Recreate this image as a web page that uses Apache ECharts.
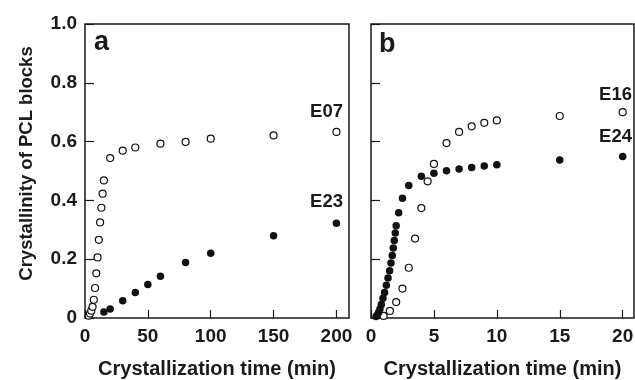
<!DOCTYPE html>
<html>
<head>
<meta charset="utf-8">
<script src="https://cdn.jsdelivr.net/npm/echarts@6/dist/echarts.min.js"></script>
<style>
  html, body { margin: 0; padding: 0; background: #fff; }
  #main { width: 635px; height: 380px; }
</style>
</head>
<body>
<div id="main"></div>
<script>
// panel a
var e07Time = [3, 4, 5, 6, 7, 8, 9, 10, 11, 12, 13, 14, 15, 20, 30, 40, 60, 80, 100, 150, 200];
var e07Cryst = [0.008, 0.015, 0.025, 0.038, 0.062, 0.102, 0.152, 0.206, 0.266, 0.325, 0.375, 0.423, 0.468, 0.544, 0.569, 0.58, 0.593, 0.599, 0.61, 0.621, 0.633];
var e23Time = [15, 20, 30, 40, 50, 60, 80, 100, 150, 200];
var e23Cryst = [0.02, 0.031, 0.059, 0.087, 0.114, 0.142, 0.189, 0.22, 0.28, 0.322];
// panel b
var e16Time = [1, 1.5, 2, 2.5, 3, 3.5, 4, 4.5, 5, 6, 7, 8, 9, 10, 15, 20];
var e16Cryst = [0.007, 0.024, 0.054, 0.1, 0.171, 0.27, 0.374, 0.465, 0.524, 0.595, 0.633, 0.652, 0.664, 0.672, 0.687, 0.70];
var e24Time = [0.4, 0.5, 0.6, 0.71, 0.82, 0.95, 1.08, 1.22, 1.35, 1.48, 1.59, 1.69, 1.77, 1.85, 1.93, 2.0, 2.2, 2.5, 3, 4, 5, 6, 7, 8, 9, 10, 15, 20];
var e24Cryst = [0.005, 0.01, 0.019, 0.031, 0.046, 0.067, 0.087, 0.111, 0.136, 0.161, 0.187, 0.213, 0.238, 0.264, 0.289, 0.314, 0.358, 0.407, 0.451, 0.482, 0.492, 0.501, 0.507, 0.512, 0.517, 0.521, 0.537, 0.549];

var xTicksA = [0, 50, 100, 150, 200];
var xTicksB = [0, 5, 10, 15, 20];
var yTicks = [0, 0.2, 0.4, 0.6, 0.8, 1.0];

function pairs(xs, ys) {
    return xs.map(function (x, i) { return [x, ys[i]]; });
}

var font = 'Liberation Sans';
var ink = '#1a1a1a';

function xAxisOf(idx, max, ticks) {
    return {
        gridIndex: idx,
        type: 'value',
        min: 0,
        max: max,
        name: 'Crystallization time (min)',
        nameLocation: 'middle',
        nameGap: 41,
        nameTextStyle: { fontFamily: font, fontWeight: 'bold', fontSize: 20, color: ink },
        axisLine: { show: false },
        axisTick: { show: true, inside: true, length: 8, customValues: ticks, lineStyle: { color: ink, width: 1.2 } },
        axisLabel: { customValues: ticks, fontFamily: font, fontWeight: 'bold', fontSize: 19, color: ink, margin: 9 },
        splitLine: { show: false }
    };
}

function yAxisOf(idx, showLabels) {
    return {
        gridIndex: idx,
        type: 'value',
        min: 0,
        max: 1,
        interval: 0.2,
        name: showLabels ? 'Crystallinity of PCL blocks' : '',
        nameLocation: 'middle',
        nameGap: 49,
        nameTextStyle: { fontFamily: font, fontWeight: 'bold', fontSize: 18.5, color: ink, padding: [0, 0, 0, 15] },
        axisLine: { show: false },
        axisTick: { show: true, inside: true, length: 9, customValues: yTicks, lineStyle: { color: ink, width: 1.2 } },
        axisLabel: {
            show: showLabels,
            customValues: yTicks,
            fontFamily: font, fontWeight: 'bold', fontSize: 19, color: ink, margin: 8,
            formatter: function (v) { return v === 0 ? '0' : v.toFixed(1); }
        },
        splitLine: { show: false }
    };
}

function openSeries(name, idx, data) {
    return {
        name: name, type: 'scatter', xAxisIndex: idx, yAxisIndex: idx,
        data: data, symbol: 'circle', symbolSize: 7,
        itemStyle: { color: '#fff', borderColor: '#111', borderWidth: 1.2, opacity: 1 }
    };
}

function filledSeries(name, idx, data) {
    return {
        name: name, type: 'scatter', xAxisIndex: idx, yAxisIndex: idx,
        data: data, symbol: 'circle', symbolSize: 7.5,
        itemStyle: { color: '#111', opacity: 1 }
    };
}

var myChart = echarts.init(document.getElementById('main'), null, { renderer: 'canvas' });

var option = {
    backgroundColor: '#fff',
    animation: false,
    grid: [
        { left: 85, top: 24, width: 264, height: 294, outerBoundsMode: 'none', show: true, borderColor: ink, borderWidth: 1.5, backgroundColor: 'transparent' },
        { left: 371, top: 24, width: 263, height: 294, outerBoundsMode: 'none', show: true, borderColor: ink, borderWidth: 1.5, backgroundColor: 'transparent' }
    ],
    xAxis: [xAxisOf(0, 210, xTicksA), xAxisOf(1, 20.9, xTicksB)],
    yAxis: [yAxisOf(0, true), yAxisOf(1, false)],
    series: [
        openSeries('E07', 0, pairs(e07Time, e07Cryst)),
        filledSeries('E23', 0, pairs(e23Time, e23Cryst)),
        openSeries('E16', 1, pairs(e16Time, e16Cryst)),
        filledSeries('E24', 1, pairs(e24Time, e24Cryst))
    ],
    graphic: [
        { type: 'text', left: 94, top: 29, style: { text: 'a', font: 'bold 27px "Liberation Sans"', fill: ink } },
        { type: 'text', left: 379, top: 31, style: { text: 'b', font: 'bold 27px "Liberation Sans"', fill: ink } },
        { type: 'text', right: 292, top: 102, style: { text: 'E07', font: 'bold 18.5px "Liberation Sans"', fill: ink } },
        { type: 'text', right: 292, top: 192, style: { text: 'E23', font: 'bold 18.5px "Liberation Sans"', fill: ink } },
        { type: 'text', right: 3, top: 85, style: { text: 'E16', font: 'bold 18.5px "Liberation Sans"', fill: ink } },
        { type: 'text', right: 3, top: 127, style: { text: 'E24', font: 'bold 18.5px "Liberation Sans"', fill: ink } }
    ]
};
myChart.setOption(option);
</script>
</body>
</html>
